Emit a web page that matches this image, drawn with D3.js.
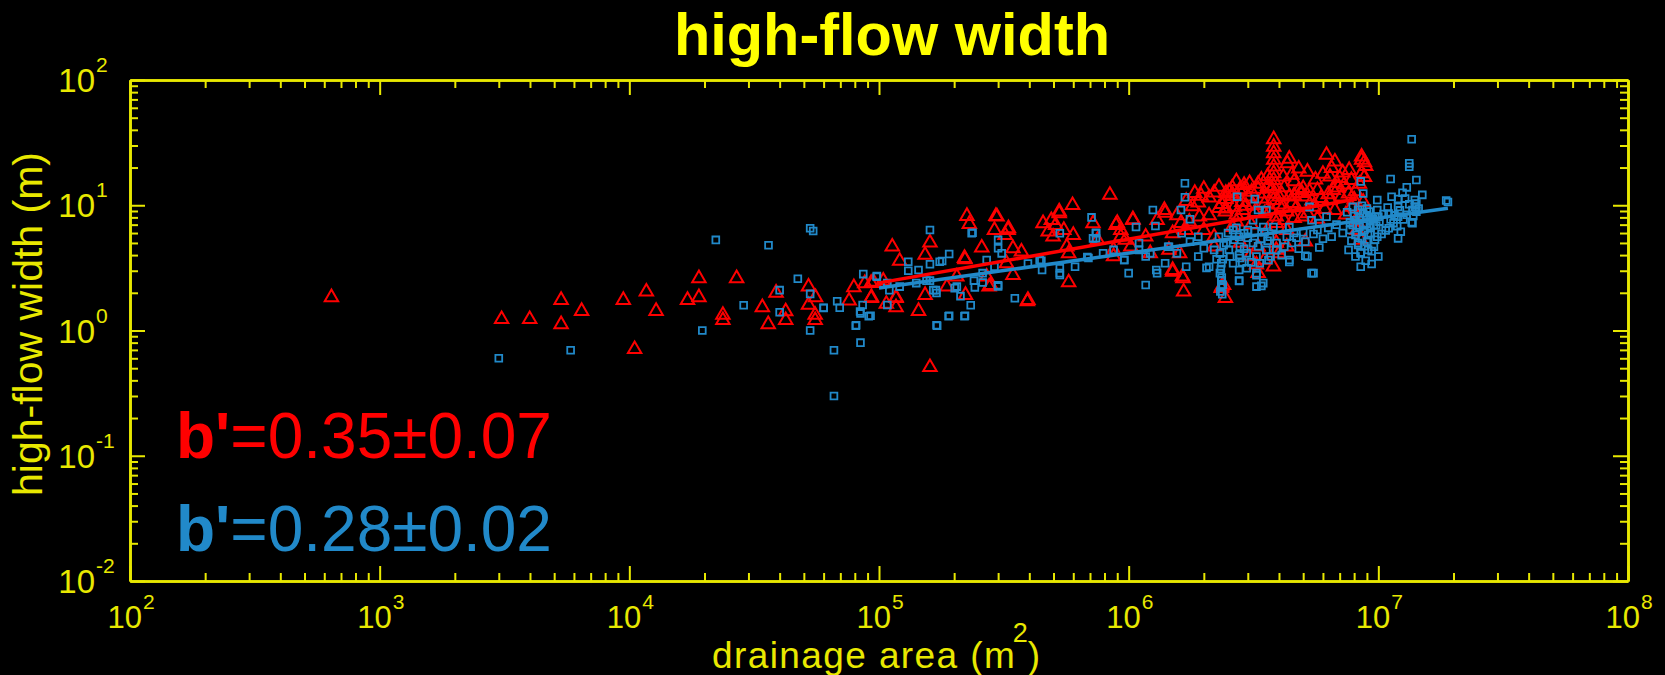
<!DOCTYPE html>
<html>
<head>
<meta charset="utf-8">
<script src="https://cdn.jsdelivr.net/npm/d3@7"></script>
<style>
  html, body { margin: 0; padding: 0; background: #000; }
  svg { display: block; }
  text { font-family: "Liberation Sans", Arial, Helvetica, sans-serif; }
</style>
</head>
<body>
<svg id="chart" width="1665" height="675"></svg>
<script>
// ---------------- data (drainage area m^2, high-flow width m) ----------------
const chartTitle = "high-flow width";
const xLabel = "drainage area (m";
const xLabelSup = "2";
const xLabelEnd = ")";
const yLabel = "high-flow width (m)";
const xTickExps = [2, 3, 4, 5, 6, 7, 8];
const yTickExps = [-2, -1, 0, 1, 2];

const redSlope = "b'", redValue = "=0.35\u00b10.07";
const blueSlope = "b'", blueValue = "=0.28\u00b10.02";

// fitted power-law lines, end points
const redFit = [[1.0e5, 2.40], [8.2e6, 11.2]];
const blueFit = [[1.0e5, 2.18], [1.9e7, 9.46]];

const redPoints = [
  [641,1.84],[3080,1.23],[3990,1.23],[5330,1.75],[5330,1.12],[6440,1.43],[9460,1.75],[10500,0.71],
  [11700,2.04],[12800,1.43],[17100,1.75],[19000,2.61],[19000,1.84],[23700,1.33],[23700,1.21],[26900,2.61],
  [34100,1.53],[36000,1.12],[38700,2.0],[42300,1.42],[42300,1.21],[52200,2.24],[52200,1.60],[55700,1.84],
  [55500,1.33],[55500,1.21],
  [75900,1.73],[79300,2.21],[87700,2.38],[93300,1.84],[95000,2.45],[104000,2.5],[113000,4.67],[117000,1.84],
  [117000,1.53],[121000,3.59],[144000,1.43],[153000,4.01],[153000,1.92],[160000,5.02],[160000,0.51],
  [221000,3.70],[222000,1.92],[225000,8.2],[230000,7.08],[258000,4.58],[276000,2.24],[294000,8.2],[290000,6.34],
  [297000,8.1],[329000,6.34],[320000,5.78],[344000,4.53],[372000,4.26],[324000,3.44],[344000,2.77],[393000,1.71],
  [454000,7.18],[476000,6.15],[527000,8.63],[498000,5.61],[550000,6.34],[596000,10.0],[565000,4.67],[600000,5.78],
  [575000,4.13],[575000,2.42],[720000,7.18],[841000,12.1],[890000,6.95],[930000,6.34],[1040000,7.73],[870000,3.91],
  [1020000,4.67],[1400000,8.7],[1840000,12.5],[1920000,8.1],[2450000,12.5],[1500000,2.94],[1640000,2.69],
  [1660000,2.04],[2440000,1.81],[2360000,2.24],
  [93000,2.39],[117000,1.81],[93000,1.81],[107000,1.63],[220000,3.79],[280000,2.3],[270000,2.69],[187000,2.24],
  [205000,2.69],
  [3810000,33.6],[3810000,29.3],[3810000,26.0],[3810000,23.0],[3810000,20.3],[3810000,18.0],[3810000,15.9],
  [3810000,14.1],[3810000,12.4],
  [4320000,21.6],[4500000,17.5],[4160000,16.9],[4600000,15.5],[3800000,11.0],[3050000,15.0],[3000000,11.7],
  [2780000,13.2],[2520000,12.9],[2450000,11.2],[2650000,9.7],[2440000,8.9],[2860000,9.16],[3150000,10.0],
  [3500000,12.4],[3500000,8.6],[4000000,11.7],[4150000,9.7],[4400000,11.7],[4800000,13.2],[5100000,11.7],
  [5500000,9.7],[4950000,8.1],[3900000,8.1],[4300000,6.34],[3600000,6.34],[3300000,4.67],[3900000,5.0],
  [4300000,4.67],[5100000,5.12],[6200000,25.2],[6700000,22.3],[7640000,19.1],[8570000,24.4],[8570000,23.0],
  [8570000,18.0],[6400000,16.9],[7000000,16.5],[7800000,15.9],[6600000,13.2],[6400000,11.0],[7100000,11.7],
  [8100000,12.9],[6700000,9.16],[7800000,9.7],[8300000,8.1],[8200000,6.34],[8500000,5.29],[5000000,13.7],
  [5700000,13.2],[2400000,2.3],[1500000,3.04],[1650000,2.61],[395000,1.75],[527000,8.9],[1390000,9.16],
  [1040000,7.6],[900000,7.2],[490000,7.6],[510000,6.95],[330000,6.55],
  [1300000,7.6],[1620000,7.2],[1700000,6.34],[1500000,5.97],[1170000,5.61],[970000,5.29],[2000000,6.34],
  [2200000,5.61],[2200000,4.67],[2600000,6.7],[2800000,5.0],[3050000,3.9],[3500000,3.66],[3800000,3.23],
  [3300000,2.87],[4000000,4.13],[1450000,4.4],[1600000,4.13],[1220000,4.13],[930000,5.61],[870000,4.4],
  [750000,5.29],[2350000,2.18],[3900000,4.4],[3250000,3.35],
  [1900000,10.5],[2100000,11.5],[2300000,9.5],[2100000,8.3],[1800000,9.8],[2000000,13.5],[2300000,14.0],
  [2600000,13.8],[2700000,15.5],[2900000,14.5],[3300000,13.5],[3400000,16.0],[3600000,17.0],
  [2360000,10.2],[2590000,11.8],[2840000,10.6],[3110000,12.8],[3410000,11.3],[3740000,13.6],[4110000,12.2],
  [4510000,10.4],[4940000,12.5],[5420000,10.9],[2450000,9.4],[2700000,8.4],[2950000,9.9],[3200000,8.8],
  [3500000,10.3],[3700000,9.2],[4000000,10.1],[4300000,8.9],[4700000,9.6],[5200000,8.6],[2600000,12.3],
  [2900000,13.4],[3300000,14.8],[3600000,14.2],[4200000,13.9],[4600000,12.0],[5300000,12.9],[5900000,11.4],
  [6300000,12.2],[6900000,13.8],[7300000,14.6],[7600000,12.4],[8000000,11.1],[8400000,14.8],[8700000,10.6],
  [8800000,16.8],[8900000,20.5],[8800000,22.0],[6000000,17.8],[6500000,19.8],[7200000,18.2],[6800000,15.1],
  [5600000,16.0],[5200000,18.5],[4800000,19.6],[4400000,23.5],[3900000,7.2],[4200000,7.6],[4600000,7.9],
  [5700000,7.8],[6100000,9.3],[7400000,8.4],[8200000,7.4],[3100000,7.0],[2700000,7.4],[1700000,10.8],
  [1950000,11.9],[2200000,12.6],[1560000,8.3],[1750000,7.4]
];

const bluePoints = [
  [3000,0.60],[5820,0.695],[19600,1.0],[22200,5.29],[28700,1.59],[36100,4.79],[40000,2.10],[40000,1.40],
  [47300,2.59],[53000,6.55],[54500,6.22],[53000,1.96],[53000,1.0],[60000,1.51],[66000,0.695],[66000,0.30],
  [68000,1.71],[69600,1.52],
  [80700,1.09],[84300,0.80],[84300,1.37],[86500,2.82],[86000,1.60],[92500,1.31],[98000,2.72],[108000,1.60],
  [131000,3.54],[131000,3.0],[144000,3.04],[160000,6.34],[160000,3.38],[160000,2.5],[169000,2.1],[171000,1.09],
  [179000,3.59],[191000,4.08],[191000,1.31],[201000,2.18],[212000,1.88],[221000,1.31],[233000,1.59],[237000,6.04],
  [242000,2.21],[260000,2.42],
  [710000,8.0],[740000,6.04],[720000,5.44],[683000,3.86],[530000,5.97],[530000,2.77],[530000,3.14],[447000,3.6],
  [395000,3.43],[350000,1.81],[300000,5.29],[300000,4.53],[300000,2.25],[1250000,9.16],[1280000,6.82],
  [1680000,15.0],[1680000,11.6],[1620000,9.16],[1760000,7.73],[960000,3.66],[1000000,2.87],[1170000,2.31],
  [1300000,2.87],[1900000,5.61],[2100000,3.23],[2350000,2.5],[2770000,2.5],[1100000,4.4],[1220000,4.13],
  [1440000,4.67],[1560000,4.13],[2000000,4.53],[2770000,4.0],[2900000,5.97],
  [98000,2.69],[108000,2.39],[84000,1.42],[91000,1.3],[81000,1.1],[60000,1.52],[175000,3.54],[235000,5.97],
  [170000,1.1],[190000,1.3],[220000,1.3],[141000,2.39],[155000,2.5],[165000,2.1],[205000,2.24],[240000,2.5],
  [260000,2.87],[270000,3.66],[290000,3.23],[170000,1.99],[121000,2.24],[110000,2.1],
  [13600000,33.6],[13300000,21.6],[13300000,20.3],[11200000,16.2],[14200000,15.9],[13000000,13.9],[12500000,12.6],
  [15000000,12.1],[18700000,10.9],[14000000,11.0],[14000000,9.7],[13700000,9.16],[12000000,11.2],[12000000,9.7],
  [12000000,8.1],[11500000,7.2],[13700000,7.2],[12000000,5.44],[11000000,6.55],[9900000,11.0],[9900000,9.16],
  [8500000,15.5],[8700000,12.4],[8500000,4.13],[8500000,3.23],[10000000,3.9],
  [7900000,9.7],[8300000,9.16],[8700000,8.6],[9000000,8.1],[9300000,7.6],[8100000,7.6],[7900000,6.95],
  [8400000,6.7],[8800000,6.34],[9300000,5.97],[9600000,6.95],[8100000,5.78],[8600000,5.44],[9000000,5.12],
  [8300000,4.83],[9600000,4.67],[9100000,4.4],[7700000,6.34],[9900000,5.61],[9700000,8.1],
  [2320000,4.13],[2350000,3.44],[2320000,2.87],[2350000,2.5],[2380000,2.31],[2620000,6.34],[2770000,5.61],
  [2790000,4.67],[2970000,4.13],[3150000,5.0],[3250000,3.9],[3350000,3.44],[3560000,4.4],[3680000,5.61],
  [3460000,6.7],[3800000,6.7],[3910000,5.0],[3150000,7.6],[2770000,3.04],[2970000,3.14],[3250000,2.87],
  [3460000,2.39],[3630000,3.66],[2790000,3.79],[3000000,6.34],[3300000,9.16],[3560000,9.16],[2720000,11.7],
  [3200000,11.2],[2520000,4.4],[2460000,5.0],[2620000,3.44],
  [4400000,6.7],[4500000,5.0],[4200000,4.67],[4400000,3.66],[5200000,3.9],[5400000,2.87],[5400000,7.6],
  [5800000,7.2],[5700000,6.34],[6200000,8.1],[5300000,9.7],[5100000,5.12],[11000000,8.6],[10000000,8.1],
  [3250000,2.24],[2350000,2.24],
  [8500000,4.2],[5500000,2.87],[5100000,3.95],[4400000,3.53],[3400000,2.27],[3250000,2.76],[2770000,2.49],
  [2050000,3.16],[19000000,10.6],[14200000,10.3],[14200000,8.9],[13600000,7.3],[12300000,6.15],[11300000,11.7],
  [740000,5.97],[740000,5.44],[960000,3.66],[1290000,3.04],[1400000,3.44],[1450000,4.67],[1630000,5.97],
  [1700000,3.23],[1900000,3.9],[1760000,5.12],[1070000,6.7],[1100000,5.0],[1170000,3.9],[870000,4.4],
  [790000,4.13],[610000,3.23],[450000,3.04],[440000,3.66],[690000,3.79],[300000,2.3],[310000,4.13],[530000,2.87],
  [7500000,8.8],[7700000,7.3],[7800000,5.2],[8000000,8.2],[8200000,6.1],[8300000,5.0],[8400000,7.9],
  [8600000,9.9],[8700000,6.9],[8800000,4.7],[8900000,7.1],[9000000,9.4],[9100000,5.8],[9200000,8.9],
  [9300000,6.6],[9400000,4.3],[9500000,7.8],[9700000,5.3],[9800000,6.9],[10100000,7.4],[10300000,5.9],
  [10500000,8.5],[10700000,6.3],[10900000,9.6],[11200000,7.7],[11600000,8.3],[11900000,6.8],[12200000,9.1],
  [12600000,7.7],[13000000,8.4],[13300000,10.2],[13800000,8.2],[14500000,9.4],[12800000,11.3],
  [7600000,4.4],[8100000,3.9],[8900000,3.6],[9400000,3.4],[7200000,6.0],[6800000,7.0],[6500000,5.6],
  [6300000,6.6],[6000000,5.4],[5800000,4.6],[5500000,5.9],[5000000,6.1],[4800000,4.5],[4700000,5.5],
  [4600000,6.0],[4300000,5.6],[4100000,4.0],[3900000,4.4],[3700000,3.9],[3600000,5.2],[3500000,6.1],
  [3400000,5.4],[3300000,4.7],[3200000,6.2],[3100000,3.5],[3000000,5.5],[2900000,4.5],[2850000,3.5],
  [2700000,6.6],[2650000,5.3],[2550000,3.9],[2500000,6.0],[2400000,4.8],[2300000,5.6],[2250000,3.7],
  [2200000,4.4],[2330000,2.05],[2370000,1.95],[2360000,2.65],[2340000,3.1],[2380000,3.7]
];

// ---------------- layout ----------------
const W = 1665, H = 675;
const L = 130, R = 1628, T = 80, B = 581;
const yellow = "#e8e800", titleYellow = "#ffff00";
const red = "#ff0000", blue = "#2189c9";

const svg = d3.select("#chart");
svg.append("rect").attr("width", W).attr("height", H).attr("fill", "#000");

const x = d3.scaleLog().domain([1e2, 1e8]).range([L, R]);
const y = d3.scaleLog().domain([1e-2, 1e2]).range([B, T]);

const xMajor = xTickExps.map(e => Math.pow(10, e));
const yMajor = yTickExps.map(e => Math.pow(10, e));
const isPow = v => Math.abs(Math.log10(v) - Math.round(Math.log10(v))) < 1e-9;
const xMinor = x.ticks().filter(v => !isPow(v));
const yMinor = y.ticks().filter(v => !isPow(v));

function styleAxis(g) {
  g.select(".domain").attr("stroke", yellow).attr("stroke-width", 2.6);
  g.selectAll(".tick line").attr("stroke", yellow).attr("stroke-width", 2);
  g.selectAll(".tick text").remove();
}

// minor + major ticks on four sides, all pointing inward
const axes = [
  [d3.axisBottom(x), xMinor, xMajor, `translate(0,${B})`],
  [d3.axisTop(x), xMinor, xMajor, `translate(0,${T})`],
  [d3.axisLeft(y), yMinor, yMajor, `translate(${L},0)`],
  [d3.axisRight(y), yMinor, yMajor, `translate(${R},0)`]
];
axes.forEach(([ax, minor, major, tr]) => {
  svg.append("g").attr("transform", tr)
    .call(ax.tickValues(minor).tickSizeInner(-8).tickSizeOuter(0).tickFormat(""))
    .call(styleAxis);
  svg.append("g").attr("transform", tr)
    .call(ax.tickValues(major).tickSizeInner(-15).tickSizeOuter(0).tickFormat(""))
    .call(styleAxis);
});

// tick labels 10^n
const labels = svg.append("g").attr("fill", yellow);
xTickExps.forEach(e => {
  const px = x(Math.pow(10, e));
  labels.append("text").attr("x", px + 12).attr("y", B + 47)
    .attr("text-anchor", "end").attr("font-size", 31).text("10");
  labels.append("text").attr("x", px + 13).attr("y", B + 28)
    .attr("text-anchor", "start").attr("font-size", 21).text(String(e));
});
yTickExps.forEach(e => {
  const py = y(Math.pow(10, e));
  labels.append("text").attr("x", 95).attr("y", py + 12)
    .attr("text-anchor", "end").attr("font-size", 33).text("10");
  labels.append("text").attr("x", 96).attr("y", py - 8)
    .attr("text-anchor", "start").attr("font-size", 21).text(String(e));
});

// title and axis labels
svg.append("text").attr("x", 892).attr("y", 55).attr("text-anchor", "middle")
  .attr("font-size", 59.5).attr("font-weight", "bold").attr("fill", titleYellow).text(chartTitle);

const ls = 1.4;
const xlMain = svg.append("text").attr("x", 712).attr("y", 668)
  .attr("font-size", 37).attr("letter-spacing", ls).attr("fill", yellow).text(xLabel);
const xlEnd = 712 + xlMain.node().getComputedTextLength() - ls;
svg.append("text").attr("x", xlEnd - 2).attr("y", 642)
  .attr("font-size", 27).attr("fill", yellow).text(xLabelSup);
svg.append("text").attr("x", xlEnd + 13).attr("y", 668)
  .attr("font-size", 37).attr("fill", yellow).text(xLabelEnd);

svg.append("text").attr("transform", "translate(42,324) rotate(-90)").attr("text-anchor", "middle")
  .attr("font-size", 41).attr("fill", yellow).text(yLabel);

// points
const tri = d3.symbol().type(d3.symbolTriangle).size(78);
const sq = d3.symbol().type(d3.symbolSquare).size(46);

svg.append("g").selectAll("path").data(redPoints).join("path")
  .attr("d", tri).attr("transform", d => `translate(${x(d[0])},${y(d[1])})`)
  .attr("fill", "none").attr("stroke", red).attr("stroke-width", 2);

svg.append("g").selectAll("path").data(bluePoints).join("path")
  .attr("d", sq).attr("transform", d => `translate(${x(d[0])},${y(d[1])})`)
  .attr("fill", "none").attr("stroke", blue).attr("stroke-width", 1.8);

// fit lines
const line = d3.line().x(d => x(d[0])).y(d => y(d[1]));
svg.append("path").datum(redFit).attr("d", line).attr("stroke", red).attr("stroke-width", 3.5).attr("fill", "none");
svg.append("path").datum(blueFit).attr("d", line).attr("stroke", blue).attr("stroke-width", 3.5).attr("fill", "none");

// slope annotations
function annot(yb, color, a, b) {
  const t = svg.append("text").attr("x", 176).attr("y", yb).attr("font-size", 64).attr("fill", color);
  t.append("tspan").attr("font-weight", "bold").text(a);
  t.append("tspan").text(b);
}
annot(458, red, redSlope, redValue);
annot(551, blue, blueSlope, blueValue);
</script>
</body>
</html>
